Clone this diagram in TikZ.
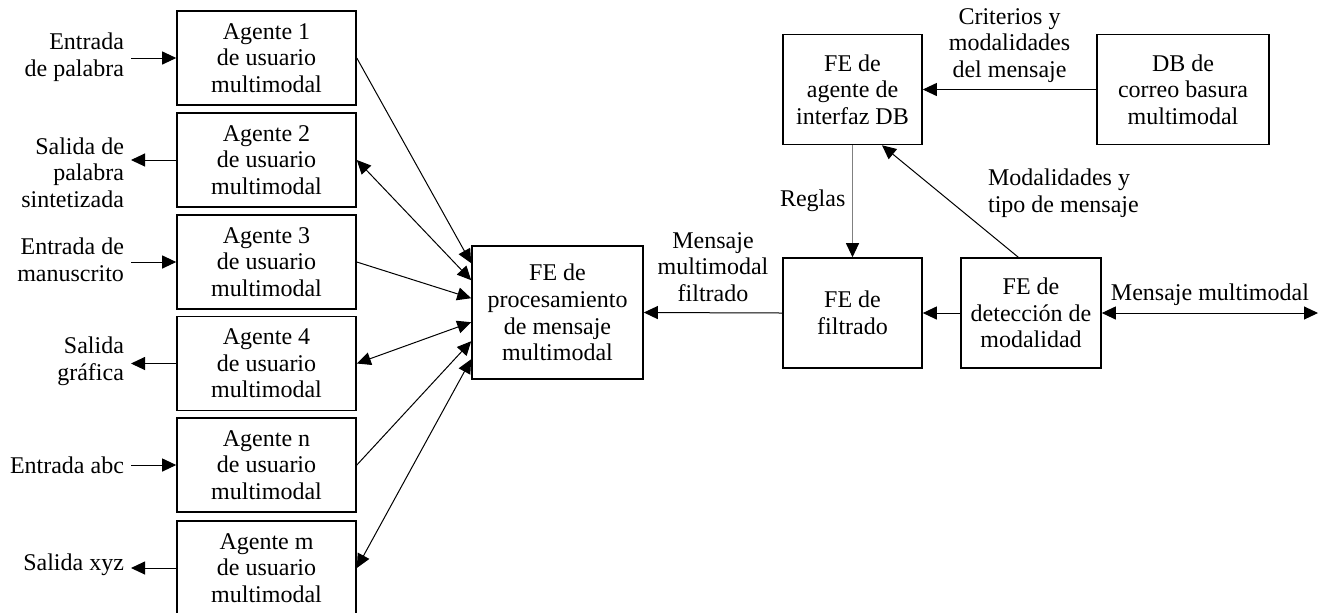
\documentclass[tikz,border=0pt]{standalone}
\usepackage{fontspec}
\setmainfont{Liberation Serif}
\usetikzlibrary{calc,arrows.meta}

\begin{document}
\begin{tikzpicture}[x=0.5pt,y=-0.5pt,
    font=\fontsize{12}{13.3}\selectfont,
    box/.style={draw,line width=0.8pt,align=center,inner sep=0pt},
    agent/.style={box,minimum width=89.5pt,minimum height=47pt},
    lab/.style={anchor=east,align=right},
    arr/.style={line width=0.5pt,-{Triangle[length=7pt,width=6.5pt,color=black]}},
    dbl/.style={line width=0.5pt,{Triangle[length=7pt,width=6.5pt]}-{Triangle[length=7pt,width=6.5pt]}}]
      \useasboundingbox (0,0) rectangle (1325,612);

      % agentes de usuario
      \foreach \n/\y/\lab in {1/58/1,2/160/2,3/262/3,4/363.5/4,5/465/n,6/568/m}
               {
                 \node [agent] (ag\n) at (266.5,\y) {Agente \lab\\de usuario\\multimodal};
               }

      \node [lab] (in1) at (131,57) {Entrada\\de palabra};
      \node [lab] (out2) at (131,172.5) {Salida de\\palabra\\sintetizada};
      \node [lab] (in3) at (131,260) {Entrada de\\manuscrito};
      \node [lab] (out4) at (131,361.5) {Salida\\gr\'afica};
      \node [lab] (in5) at (131,465) {Entrada abc};
      \node [lab] (out6) at (131,565) {Salida xyz};

      \foreach \n in {1,3,5}
               {
                 \draw [arr] (in\n.east |- ag\n.west) -- (ag\n.west);
               }
      \foreach \n in {2,4,6}
               {
                 \draw [arr] (ag\n.west) -- (ag\n.west -| out\n.east);
               }

      \node [box,minimum width=85.5pt,minimum height=66.5pt] (proc) at (557.5,312.5)
            {FE de\\procesamiento\\de mensaje\\multimodal};

      \foreach \n/\d in {1/18,3/53,5/96}
               {
                 \draw [arr] (ag\n.east) -- ($(proc.north west)+(0,\d)$);
               }
      \foreach \n/\d in {2/35,4/77,6/114}
               {
                 \draw [dbl] (ag\n.east) -- ($(proc.north west)+(0,\d)$);
               }

      \node [box,minimum width=69.5pt,minimum height=55pt] (filt) at (852.5,313) {FE de\\filtrado};
      \node [box,minimum width=69.5pt,minimum height=55pt] (agdb) at (852.5,89.5) {FE de\\agente de\\interfaz DB};
      \node [box,minimum width=86pt,minimum height=55pt] (spam) at (1183,89.5) {DB de\\correo basura\\multimodal};
      \node [box,minimum width=70pt,minimum height=55pt] (det) at (1031,313) {FE de\\detecci\'on de\\modalidad};
      \coordinate (msgend) at (1318,313);

      \draw [arr] (spam.west) -- node[above,align=center] {Criterios y\\modalidades\\del mensaje} (agdb.east);
      \draw [arr,gray] (agdb.south) -- node[left,black] {Reglas} (filt.north);
      \draw [arr] ($(det.north west)!0.41!(det.north east)$) -- ($(agdb.south west)!0.71!(agdb.south east)$);
      \node [anchor=west,align=left] (modlab) at (981,193.5) {Modalidades y\\tipo de mensaje};
      \draw [arr] (det.west) -- (filt.east);
      \draw [arr] (filt.west) -- node[above,align=center,yshift=2pt] {Mensaje\\multimodal\\filtrado} (proc.east);
      \draw [dbl] (det.east) -- node[above] {Mensaje multimodal} (msgend);
    \end{tikzpicture}
\end{document}
